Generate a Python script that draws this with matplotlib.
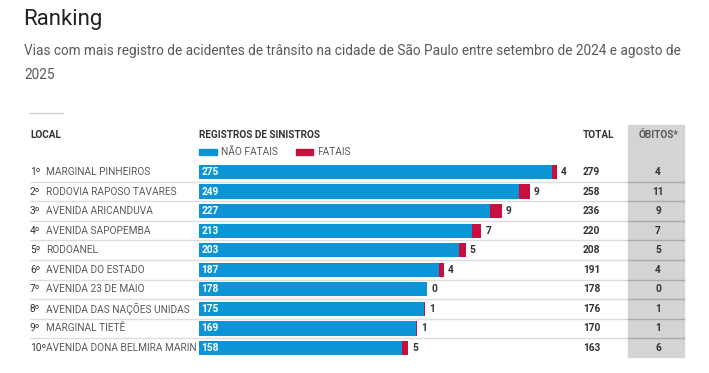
import matplotlib.pyplot as plt
import matplotlib.transforms as mtransforms
from matplotlib.patches import Rectangle

# Dados
locais = ["MARGINAL PINHEIROS", "RODOVIA RAPOSO TAVARES", "AVENIDA ARICANDUVA",
          "AVENIDA SAPOPEMBA", "RODOANEL", "AVENIDA DO ESTADO", "AVENIDA 23 DE MAIO",
          "AVENIDA DAS NAÇÕES UNIDAS", "MARGINAL TIETÊ", "AVENIDA DONA BELMIRA MARIN"]
naoFatais = [275, 249, 227, 213, 203, 187, 178, 175, 169, 158]
fatais = [4, 9, 9, 7, 5, 4, 0, 1, 1, 5]
totais = [279, 258, 236, 220, 208, 191, 178, 176, 170, 163]
obitos = [4, 11, 9, 7, 5, 4, 0, 1, 1, 6]

BLUE = "#0b94d6"
RED = "#c8103e"
DARK = "#333333"
GRAY = "#5a5a5a"

plt.rcParams['font.family'] = ['Roboto', 'DejaVu Sans']

W, H = 709, 373
fig = plt.figure(figsize=(W / 100, H / 100), dpi=100)

def fx(px):
    return px / W

def fy(py):
    return 1 - py / H

# titulo e subtitulo
fig.text(fx(23), fy(20), "Ranking", fontsize=16, color="#222222", va="center", ha="left")
fig.text(fx(24), fy(51), "Vias com mais registro de acidentes de trânsito na cidade de São Paulo entre setembro de 2024 e agosto de",
         fontsize=9.85, color=GRAY, va="center", ha="left")
fig.text(fx(24), fy(75), "2025", fontsize=9.85, color=GRAY, va="center", ha="left")
fig.add_artist(plt.Line2D([fx(30), fx(63)], [fy(113), fy(113)], color="#cccccc", lw=1))

# coluna cinza de obitos
fig.add_artist(Rectangle((fx(628), fy(357)), fx(684) - fx(628), fy(125) - fy(357),
                         transform=fig.transFigure, color="#d4d4d6", zorder=0))

# eixo das barras
top, bottom = 162.2, 357.8
left, right = 199, 684
ax = fig.add_axes([fx(left), fy(bottom), fx(right) - fx(left), fy(top) - fy(bottom)])
scale = 358 / 279.0
ax.set_xlim(0, (right - left) / scale)
ax.set_ylim(len(locais) - 0.5, -0.5)
ax.axis("off")
ax.patch.set_alpha(0)

ys = list(range(len(locais)))
ax.barh(ys, naoFatais, height=0.72, color=BLUE)
ax.barh(ys, fatais, left=naoFatais, height=0.72, color=RED)

trans = mtransforms.blended_transform_factory(fig.transFigure, ax.transData)
off = mtransforms.offset_copy(ax.transData, fig=fig, x=4, y=0, units="dots")

fs = 7.3
for i in ys:
    ax.text(2, i, str(naoFatais[i]), color="white", fontweight="bold", fontsize=fs,
            va="center", ha="left")
    ax.text(naoFatais[i] + fatais[i], i, str(fatais[i]), transform=off, color=DARK,
            fontweight="bold", fontsize=fs, va="center", ha="left")
    ax.text(fx(30), i, f"{i + 1}º", transform=trans, color=DARK, fontsize=fs,
            va="center", ha="left")
    ax.text(fx(46), i, locais[i], transform=trans, color=GRAY, fontsize=fs,
            va="center", ha="left")
    ax.text(fx(583), i, str(totais[i]), transform=trans, color=DARK, fontweight="bold",
            fontsize=fs, va="center", ha="left")
    ax.text(fx(658), i, str(obitos[i]), transform=trans, color=DARK, fontweight="bold",
            fontsize=fs, va="center", ha="center")
    if i < len(locais) - 1:
        ax.plot([fx(30), fx(628)], [i + 0.5, i + 0.5], transform=trans, color="#dddddd",
                lw=1, clip_on=False)
        ax.plot([fx(628), fx(684)], [i + 0.5, i + 0.5], transform=trans, color="#aaaaaa",
                lw=1, clip_on=False)

# cabecalho
hs = 7.2
fig.text(fx(30), fy(135), "LOCAL", fontsize=hs, fontweight="bold", color=DARK, va="center")
fig.text(fx(199), fy(135), "REGISTROS DE SINISTROS", fontsize=hs, fontweight="bold", color=DARK, va="center")
fig.text(fx(583), fy(135), "TOTAL", fontsize=hs, fontweight="bold", color=DARK, va="center")
fig.text(fx(659), fy(135), "ÓBITOS*", fontsize=hs, fontweight="bold", color=GRAY, va="center", ha="center")

# legenda
fig.add_artist(Rectangle((fx(199), fy(155)), fx(18), 6 / H, transform=fig.transFigure, color=BLUE))
fig.text(fx(221), fy(152), "NÃO FATAIS", fontsize=fs, color=GRAY, va="center")
fig.add_artist(Rectangle((fx(296), fy(155)), fx(17), 6 / H, transform=fig.transFigure, color=RED))
fig.text(fx(317), fy(152), "FATAIS", fontsize=fs, color=GRAY, va="center")

fig.savefig("out.png", dpi=100, facecolor="white")
